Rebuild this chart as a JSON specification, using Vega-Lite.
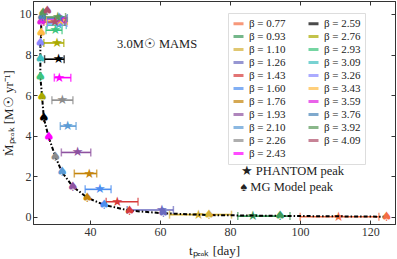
{
  "$schema": "https://vega.github.io/schema/vega-lite/v6.json",
  "width": 362,
  "height": 223,
  "autosize": "none",
  "padding": {"left": 33, "top": 1, "right": 2, "bottom": 35},
  "background": "white",
  "config": {
    "font": "Liberation Serif",
    "view": {"stroke": "#333", "strokeWidth": 1},
    "axis": {"labelFontSize": 12, "titleFontSize": 13, "titleFontWeight": "normal", "labelColor": "#333", "titleColor": "#222", "domainColor": "#333", "tickColor": "#333", "grid": false, "tickSize": -4, "labelPadding": 6},
    "legend": {"labelFontSize": 11, "labelColor": "#222"}
  },
  "resolve": {"axis": {"x": "independent", "y": "independent"}},
  "data": {"values": [
    {"beta": "β = 0.77", "b": 0.77, "tp": 111, "tlo": 100, "thi": 122.5, "mp": 0.0, "tmg": 124.7, "mmg": 0.0},
    {"beta": "β = 0.93", "b": 0.93, "tp": 86.5, "tlo": 82.2, "thi": 97.1, "mp": 0.03, "tmg": 94.3, "mmg": 0.04},
    {"beta": "β = 1.10", "b": 1.10, "tp": 71, "tlo": 62.7, "thi": 80.4, "mp": 0.1, "tmg": 74, "mmg": 0.08},
    {"beta": "β = 1.26", "b": 1.26, "tp": 60.5, "tlo": 50.6, "thi": 63.8, "mp": 0.33, "tmg": 60.9, "mmg": 0.17},
    {"beta": "β = 1.43", "b": 1.43, "tp": 47.8, "tlo": 44.6, "thi": 53.7, "mp": 0.74, "tmg": 51.3, "mmg": 0.3},
    {"beta": "β = 1.60", "b": 1.60, "tp": 42.8, "tlo": 38.6, "thi": 46, "mp": 1.35, "tmg": 44, "mmg": 0.58},
    {"beta": "β = 1.76", "b": 1.76, "tp": 39.8, "tlo": 35.5, "thi": 41.9, "mp": 2.13, "tmg": 39.2, "mmg": 0.94},
    {"beta": "β = 1.93", "b": 1.93, "tp": 36.4, "tlo": 31.8, "thi": 40.2, "mp": 3.17, "tmg": 35.1, "mmg": 1.48},
    {"beta": "β = 2.10", "b": 2.10, "tp": 33.6, "tlo": 31.5, "thi": 36, "mp": 4.47, "tmg": 32, "mmg": 2.19},
    {"beta": "β = 2.26", "b": 2.26, "tp": 32.1, "tlo": 29.1, "thi": 35.1, "mp": 5.75, "tmg": 30.1, "mmg": 2.96},
    {"beta": "β = 2.43", "b": 2.43, "tp": 31.2, "tlo": 29.8, "thi": 34.5, "mp": 6.86, "tmg": 28.2, "mmg": 3.91},
    {"beta": "β = 2.59", "b": 2.59, "tp": 31, "tlo": 27, "thi": 32.6, "mp": 7.77, "tmg": 26.8, "mmg": 4.85},
    {"beta": "β = 2.76", "b": 2.76, "tp": 30.6, "tlo": 26.8, "thi": 32.5, "mp": 8.57, "tmg": 26.3, "mmg": 5.91},
    {"beta": "β = 2.93", "b": 2.93, "tp": 30.1, "tlo": 27.4, "thi": 32, "mp": 9.2, "tmg": 25.8, "mmg": 6.9},
    {"beta": "β = 3.09", "b": 3.09, "tp": 31.0, "tlo": 27.7, "thi": 33.2, "mp": 9.45, "tmg": 25.8, "mmg": 7.8},
    {"beta": "β = 3.26", "b": 3.26, "tp": 31.3, "tlo": 27.8, "thi": 33.4, "mp": 9.55, "tmg": 25.8, "mmg": 8.57},
    {"beta": "β = 3.43", "b": 3.43, "tp": 31.5, "tlo": 27.5, "thi": 33.5, "mp": 9.65, "tmg": 26.1, "mmg": 9.08},
    {"beta": "β = 3.59", "b": 3.59, "tp": 31.6, "tlo": 27.2, "thi": 33.2, "mp": 9.75, "tmg": 26.0, "mmg": 9.6},
    {"beta": "β = 3.76", "b": 3.76, "tp": 31.2, "tlo": 27.0, "thi": 33.5, "mp": 9.8, "tmg": 26.2, "mmg": 9.85},
    {"beta": "β = 3.92", "b": 3.92, "tp": 30.8, "tlo": 27.1, "thi": 33.0, "mp": 9.85, "tmg": 26.6, "mmg": 10.05},
    {"beta": "β = 4.09", "b": 4.09, "tp": 30.0, "tlo": 26.8, "thi": 32.8, "mp": 9.6, "tmg": 27.8, "mmg": 10.15}
  ]},
  "layer": [
    {
      "mark": {"type": "rule", "strokeWidth": 1.6},
      "encoding": {
        "x": {"field": "tlo", "type": "quantitative", "scale": {"domain": [23.7, 127.1], "nice": false, "zero": false}, "axis": {"values": [40, 60, 80, 100, 120], "title": "tₚₑₐₖ [day]", "titlePadding": 7}},
        "x2": {"field": "thi"},
        "y": {"field": "mp", "type": "quantitative", "scale": {"domain": [-0.36, 10.64], "nice": false, "zero": false}, "axis": {"values": [0, 2, 4, 6, 8, 10], "title": "Ṁₚₑₐₖ [M☉ yr⁻¹]", "titlePadding": 4}},
        "color": {
          "field": "beta", "type": "nominal",
          "scale": {
            "domain": ["β = 0.77", "β = 0.93", "β = 1.10", "β = 1.26", "β = 1.43", "β = 1.60", "β = 1.76", "β = 1.93", "β = 2.10", "β = 2.26", "β = 2.43", "β = 2.59", "β = 2.76", "β = 2.93", "β = 3.09", "β = 3.26", "β = 3.43", "β = 3.59", "β = 3.76", "β = 3.92", "β = 4.09"],
            "range": ["#f46d43", "#3a9a5a", "#d4b036", "#6a6abf", "#d63a3a", "#4d8ef0", "#c4840a", "#8e52a0", "#5b9bd5", "#8c8c8c", "#ff00ff", "#000000", "#aaaa00", "#3cc47c", "#40bfbf", "#8888ff", "#ffbb44", "#e020e0", "#4a86b8", "#5a9a5a", "#b0506a"]
          },
          "legend": {
            "title": null, "orient": "none", "legendX": 195, "legendY": 12, "columns": 2,
            "symbolType": "stroke", "symbolStrokeWidth": 3, "symbolSize": 100,
            "rowPadding": 0, "columnPadding": 16, "labelOffset": 4,
            "strokeColor": "#dddddd", "padding": 4, "fillColor": "white"
          }
        }
      }
    },
    {
      "mark": {"type": "tick", "orient": "vertical", "size": 8, "thickness": 1.5},
      "encoding": {
        "x": {"field": "tlo", "type": "quantitative", "axis": {"orient": "top", "values": [40, 60, 80, 100, 120], "labels": false, "title": null}},
        "y": {"field": "mp", "type": "quantitative", "axis": {"orient": "right", "values": [0, 2, 4, 6, 8, 10], "labels": false, "title": null}},
        "color": {"field": "beta", "type": "nominal"}
      }
    },
    {
      "mark": {"type": "tick", "orient": "vertical", "size": 8, "thickness": 1.5},
      "encoding": {
        "x": {"field": "thi", "type": "quantitative", "axis": null},
        "y": {"field": "mp", "type": "quantitative", "axis": null},
        "color": {"field": "beta", "type": "nominal"}
      }
    },
    {
      "mark": {"type": "text", "text": "★", "font": "DejaVu Sans", "fontSize": 13, "baseline": "middle"},
      "encoding": {
        "x": {"field": "tp", "type": "quantitative", "axis": null},
        "y": {"field": "mp", "type": "quantitative", "axis": null},
        "color": {"field": "beta", "type": "nominal"}
      }
    },
    {
      "mark": {"type": "line", "color": "black", "strokeWidth": 2, "strokeDash": [4, 2, 1.5, 2]},
      "encoding": {
        "x": {"field": "tmg", "type": "quantitative", "axis": null},
        "y": {"field": "mmg", "type": "quantitative", "axis": null},
        "order": {"field": "b", "type": "quantitative"}
      }
    },
    {
      "mark": {"type": "text", "text": "♠", "font": "DejaVu Sans", "fontSize": 13, "baseline": "middle"},
      "encoding": {
        "x": {"field": "tmg", "type": "quantitative", "axis": null},
        "y": {"field": "mmg", "type": "quantitative", "axis": null},
        "color": {"field": "beta", "type": "nominal"}
      }
    },
    {
      "data": {"values": [
        {"t": 47.7, "m": 8.5, "label": "3.0M☉ MAMS"},
        {"t": 83.0, "m": 2.25, "label": "★ PHANTOM peak"},
        {"t": 83.0, "m": 1.45, "label": "♠ MG Model peak"}
      ]},
      "mark": {"type": "text", "fontSize": 12.5, "color": "#222", "align": "left", "baseline": "middle"},
      "encoding": {
        "x": {"field": "t", "type": "quantitative", "axis": null},
        "y": {"field": "m", "type": "quantitative", "axis": null},
        "text": {"field": "label"}
      }
    }
  ]
}
